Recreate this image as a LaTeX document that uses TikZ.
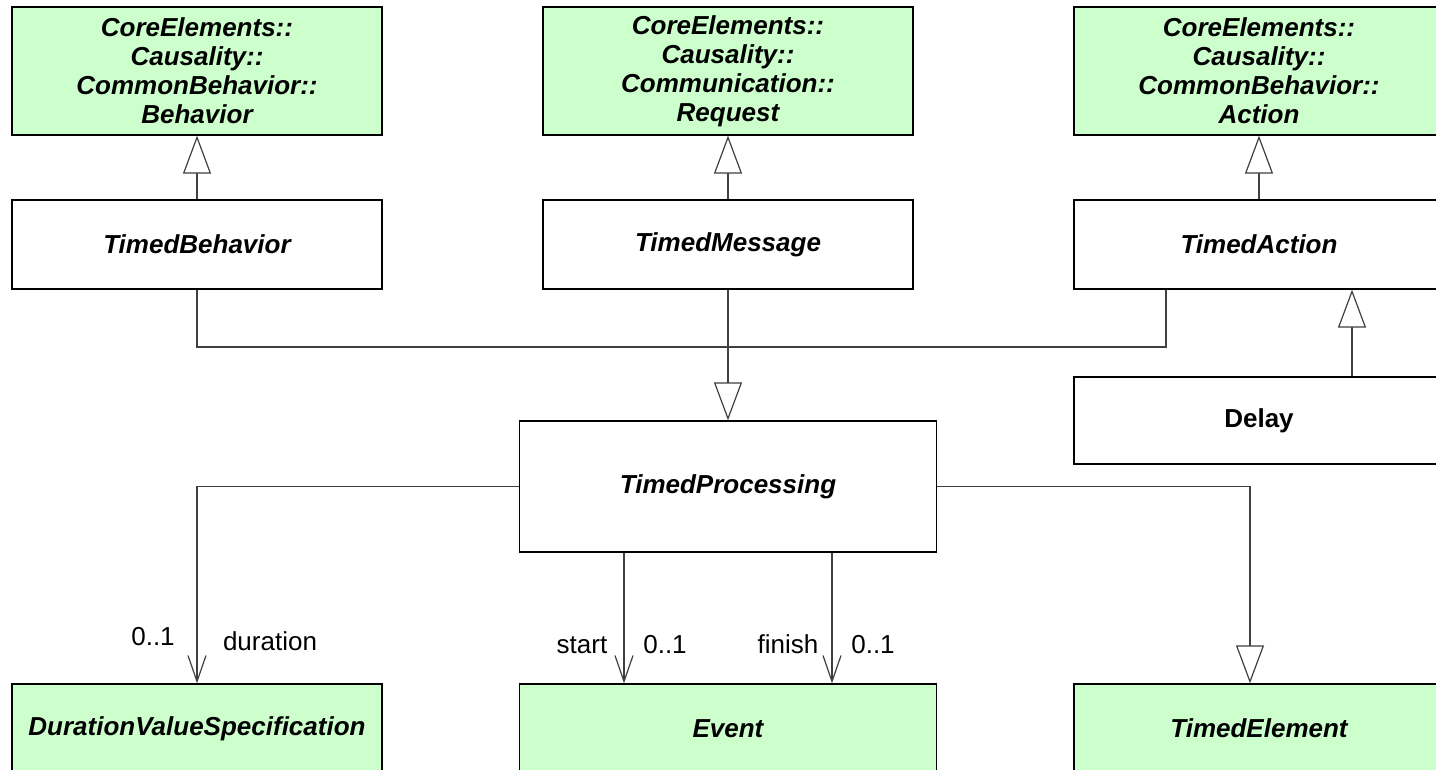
\documentclass[tikz,border=0pt]{standalone}
\usepackage{fontspec}
\setmainfont{Liberation Sans}
\usetikzlibrary{arrows.meta}
\definecolor{umlgreen}{HTML}{CCFFCC}
\definecolor{linegray}{HTML}{404040}
\begin{document}
\begin{tikzpicture}[x=1pt,y=-1pt,
  cls/.style={draw=black, line width=1.3pt, rectangle, inner sep=0pt, align=center,
    font=\fontsize{26}{29}\selectfont\bfseries\itshape},
  greencls/.style={cls, fill=umlgreen},
  wbox/.style={minimum width=370pt, minimum height=89pt},
  tbox/.style={minimum width=370pt, minimum height=128pt},
  wide/.style={minimum width=417pt},
  conn/.style={draw=linegray, line width=1.2pt},
  gen/.style={conn, -{Triangle[length=38pt, width=28pt, fill=white, line width=1.2pt]}},
  assoc/.style={conn, -{Straight Barb[length=26pt, width=18pt, line width=1.2pt]}},
  lbl/.style={inner sep=0pt, anchor=base, font=\fontsize{26}{29}\selectfont}
]
\useasboundingbox[fill=white] (0,0) rectangle (1436,770);

% top row
\node[greencls, tbox] (beh) at (197,71) {CoreElements::\\Causality::\\CommonBehavior::\\Behavior};
\node[greencls, tbox] (req) at (728,71) {CoreElements::\\Causality::\\Communication::\\Request};
\node[greencls, tbox] (act) at (1259,71) {CoreElements::\\Causality::\\CommonBehavior::\\Action};

% middle row
\node[cls, wbox] (tb) at (197,244.5) {TimedBehavior};
\node[cls, wbox] (tm) at (728,244.5) {TimedMessage};
\node[cls, wbox] (ta) at (1259,244.5) {TimedAction};
\node[cls, minimum width=370pt, minimum height=87pt, font=\fontsize{26}{29}\selectfont\bfseries] (delay) at (1259,420.5) {Delay};

\node[cls, wide, minimum height=131pt] (tp) at (728,486.5) {TimedProcessing};

% bottom row
\node[greencls, wbox] (dvs) at (197,728.5) {DurationValueSpecification};
\node[greencls, wbox, wide] (ev) at (728,728.5) {Event};
\node[greencls, wbox] (te) at (1259,728.5) {TimedElement};

% generalizations
\draw[gen] (tb.north) -- (beh.south);
\draw[gen] (tm.north) -- (req.south);
\draw[gen] (ta.north) -- (act.south);
\draw[gen] ([xshift=93pt]delay.north) -- ([xshift=93pt]ta.south);

\coordinate (j) at (728,347);
\draw[conn] (tb.south) |- (j);
\draw[conn] ([xshift=-93pt]ta.south) |- (j);
\draw[gen] (tm.south) -- (tp.north);

\draw[gen] (tp.east) -| ([xshift=-9pt]te.north);

% associations
\draw[assoc] (tp.west) -| (dvs.north);
\draw[assoc] ([xshift=-104pt]tp.south) -- ([xshift=-104pt]ev.north);
\draw[assoc] ([xshift=104pt]tp.south) -- ([xshift=104pt]ev.north);

% labels
\node[lbl] (m1) at (153,645) {0..1};
\node[lbl] (r1) at (270,650) {duration};
\node[lbl] (r2) at (582,653) {start};
\node[lbl] (m2) at (665,653) {0..1};
\node[lbl] (r3) at (788,653) {finish};
\node[lbl] (m3) at (873,653) {0..1};
\end{tikzpicture}
\end{document}
